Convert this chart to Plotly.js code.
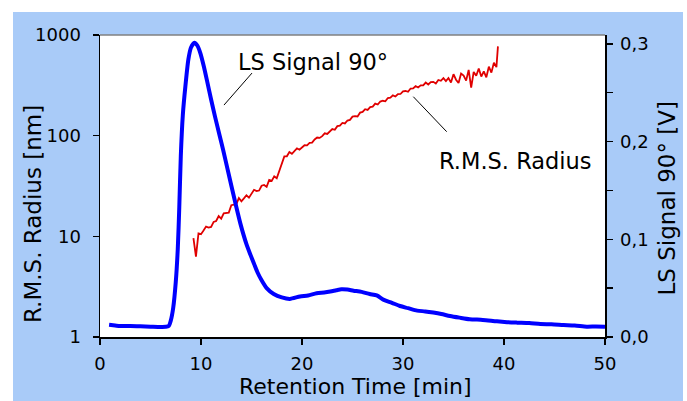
<!DOCTYPE html>
<html><head><meta charset="utf-8">
<script src="https://cdn.plot.ly/plotly-3.0.1.min.js"></script>
<style>
html,body{margin:0;padding:0;background:#fff;width:687px;height:401px;overflow:hidden}
#chart{position:absolute;left:13px;top:12px;width:670px;height:389px}
</style>
</head><body><div id="chart"></div>
<script>
// LS Signal 90° [V] (right axis)
const timeLS = [0.9, 1.5, 2.0, 3.0, 4.0, 5.0, 6.0, 6.5, 6.8, 7.0, 7.25, 7.5, 7.7, 7.85, 8.0, 8.2, 8.45, 8.75, 9.0, 9.35, 9.65, 9.95, 10.3, 10.6, 11.0, 11.4, 11.8, 12.2, 12.6, 13.0, 13.45, 13.9, 14.5, 14.9, 15.25, 15.6, 16.0, 16.5, 17.2, 18.0, 18.8, 19.8, 20.6, 21.45, 22.2, 22.8, 23.4, 23.9, 24.5, 25.1, 25.9, 26.7, 27.4, 28.1, 28.9, 29.7, 30.5, 31.4, 32.2, 33.0, 33.8, 34.65, 35.6, 36.6, 37.9, 39.3, 40.3, 41.3, 42.5, 43.6, 44.7, 45.9, 47.0, 48.2, 49.1, 50.0];
const signalLS = [0.0125, 0.0118, 0.0112, 0.0113, 0.0109, 0.0106, 0.0103, 0.0104, 0.0112, 0.0165, 0.030, 0.056, 0.090, 0.133, 0.185, 0.227, 0.256, 0.284, 0.296, 0.301, 0.298, 0.290, 0.276, 0.262, 0.243, 0.225, 0.208, 0.191, 0.173, 0.155, 0.135, 0.116, 0.095, 0.084, 0.075, 0.066, 0.058, 0.050, 0.044, 0.0405, 0.0390, 0.0415, 0.0425, 0.0447, 0.0455, 0.0465, 0.0478, 0.0488, 0.0485, 0.0474, 0.0462, 0.0440, 0.0425, 0.0380, 0.0350, 0.0317, 0.0295, 0.0270, 0.0262, 0.0250, 0.0235, 0.0215, 0.0198, 0.0182, 0.0175, 0.0160, 0.0152, 0.0147, 0.0142, 0.0133, 0.0130, 0.0123, 0.0118, 0.0106, 0.0108, 0.0106];

// R.M.S. Radius [nm] (left log axis)
const timeRMS = [9.25, 9.5, 9.75, 10.0, 10.25, 10.5, 10.75, 11.0, 11.25, 11.5, 11.75, 12.0, 12.25, 12.5, 12.75, 13.0, 13.25, 13.5, 13.75, 14.0, 14.25, 14.5, 14.75, 15.0, 15.25, 15.5, 15.75, 16.0, 16.25, 16.5, 16.75, 17.0, 17.25, 17.5, 17.75, 18.0, 18.25, 18.5, 18.75, 19.0, 19.25, 19.5, 19.75, 20.0, 20.25, 20.5, 20.75, 21.0, 21.25, 21.5, 21.75, 22.0, 22.25, 22.5, 22.75, 23.0, 23.25, 23.5, 23.75, 24.0, 24.25, 24.5, 24.75, 25.0, 25.25, 25.5, 25.75, 26.0, 26.25, 26.5, 26.75, 27.0, 27.25, 27.5, 27.75, 28.0, 28.25, 28.5, 28.75, 29.0, 29.25, 29.5, 29.75, 30.0, 30.25, 30.5, 30.75, 31.0, 31.25, 31.5, 31.75, 32.0, 32.25, 32.5, 32.75, 33.0, 33.25, 33.5, 33.75, 34.0, 34.25, 34.5, 34.75, 35.0, 35.25, 35.5, 35.75, 36.0, 36.25, 36.5, 36.75, 37.0, 37.25, 37.5, 37.75, 38.0, 38.25, 38.5, 38.75, 39.0, 39.25, 39.4];
const radiusRMS = [9.6, 6.3, 10.7, 10.5, 11.4, 12.5, 12.2, 12.4, 13.9, 14.2, 15.9, 15.0, 16.9, 17.0, 17.2, 20.4, 20.6, 20.9, 24.0, 22.3, 23.8, 25.6, 24.2, 26.9, 29.0, 28.2, 28.5, 31.8, 32.4, 31.0, 36.4, 35.5, 39.5, 37.8, 44.5, 52.8, 62.2, 62.4, 68.8, 66.0, 70.7, 74.9, 72.5, 77.0, 80.3, 80.2, 84.8, 85.3, 91.8, 95.8, 95.0, 99.0, 105.6, 103.9, 111.1, 116.3, 114.5, 124.4, 126, 133.9, 132.3, 141.4, 143.6, 154.5, 156.6, 155.2, 169.3, 172, 183.3, 180.3, 191.9, 194.0, 208.1, 203.8, 218.3, 222.2, 219.2, 236.6, 238, 251.3, 245, 258.6, 259.4, 276, 277.8, 272.6, 293.8, 295, 310, 300.9, 316.1, 315.8, 337, 322.4, 340.7, 342.4, 329.3, 357.4, 351, 372.8, 348.2, 373.9, 337.6, 408.1, 360, 333.5, 413.6, 394.7, 351.9, 450.3, 300, 429.3, 393.6, 464.8, 386.4, 434.5, 380.2, 484, 423, 530, 480, 770];

const xTicks = [0, 10, 20, 30, 40, 50];
const yTicks = [1, 10, 100, 1000];
const yTickText = ['1', '10', '100', '1000'];
const y2Ticks = [0, 0.1, 0.2, 0.3];
const y2TickText = ['0,0', '0,1', '0,2', '0,3'];

const FONT = 'DejaVu Sans, Verdana, sans-serif';

const traces = [
  {x: timeRMS, y: radiusRMS, type: 'scatter', mode: 'lines', yaxis: 'y',
   line: {color: '#e00000', width: 1.8}, hoverinfo: 'skip'},
  {x: timeLS, y: signalLS, type: 'scatter', mode: 'lines', yaxis: 'y2',
   line: {color: '#0000ff', width: 4, shape: 'spline', smoothing: 0.7}, hoverinfo: 'skip'}
];

const layout = {
  width: 670, height: 389,
  margin: {l: 87, r: 78, t: 23, b: 64},
  paper_bgcolor: '#a9cbf8',
  plot_bgcolor: '#ffffff',
  showlegend: false,
  font: {family: FONT, size: 18, color: '#000'},
  xaxis: {range: [0, 50], tickvals: xTicks, ticks: 'outside', ticklen: 6, tickwidth: 1.5,
          tickcolor: '#000', showline: true, linecolor: '#000', linewidth: 1.5,
          showgrid: false, zeroline: false, ticklabelstandoff: 4,
          tickfont: {family: FONT, size: 18, color: '#000'}},
  yaxis: {type: 'log', range: [0, 3], tickvals: yTicks, ticktext: yTickText,
          ticks: 'outside', ticklen: 6, tickwidth: 1.5, tickcolor: '#000',
          showline: true, linecolor: '#000', linewidth: 1.5, showgrid: false,
          zeroline: false, ticklabelstandoff: 8,
          tickfont: {family: FONT, size: 18, color: '#000'}},
  yaxis2: {overlaying: 'y', side: 'right', range: [0, 0.309], tickvals: y2Ticks,
          ticktext: y2TickText, ticks: 'outside', ticklen: 6, tickwidth: 1.5,
          tickcolor: '#000', showline: true, linecolor: '#000', linewidth: 1.5,
          showgrid: false, zeroline: false, ticklabelstandoff: 4,
          minor: {dtick: 0.05, tick0: 0, ticks: 'outside', ticklen: 6, tickwidth: 1.5, tickcolor: '#000'},
          tickfont: {family: FONT, size: 18, color: '#000'}},
  shapes: [
    {type: 'line', xref: 'paper', yref: 'paper', x0: 0, x1: 1, y0: 1, y1: 1,
     line: {color: '#808080', width: 1.5}},
    {type: 'line', xref: 'paper', yref: 'paper', x0: 0.2455, y0: 0.768, x1: 0.301, y1: 0.874,
     line: {color: '#000', width: 1}},
    {type: 'line', xref: 'paper', yref: 'paper', x0: 0.6204, y0: 0.7957, x1: 0.6865, y1: 0.6798,
     line: {color: '#000', width: 1}}
  ],
  annotations: [
    {text: 'LS Signal 90°', xref: 'paper', yref: 'paper', x: 0.2693, y: 0.912,
     xanchor: 'left', yanchor: 'middle', showarrow: false,
     font: {family: FONT, size: 22.5, color: '#000'}},
    {text: 'R.M.S. Radius', xref: 'paper', yref: 'paper', x: 0.6673, y: 0.584,
     xanchor: 'left', yanchor: 'middle', showarrow: false,
     font: {family: FONT, size: 22.5, color: '#000'}},
    {text: 'R.M.S. Radius [nm]', xref: 'paper', yref: 'paper', x: -0.1327, y: 0.407,
     xanchor: 'center', yanchor: 'middle', textangle: -90, showarrow: false,
     font: {family: FONT, size: 23, color: '#000'}},
    {text: 'LS Signal 90° [V]', xref: 'paper', yref: 'paper', x: 1.1208, y: 0.4586,
     xanchor: 'center', yanchor: 'middle', textangle: -90, showarrow: false,
     font: {family: FONT, size: 23, color: '#000'}},
    {text: 'Retention Time [min]', xref: 'paper', yref: 'paper', x: 0.506, y: -0.1649,
     xanchor: 'center', yanchor: 'middle', showarrow: false, borderpad: 0,
     font: {family: FONT, size: 22, color: '#000'}}
  ]
};

Plotly.newPlot('chart', traces, layout, {staticPlot: true, displayModeBar: false});
</script>
</body></html>
